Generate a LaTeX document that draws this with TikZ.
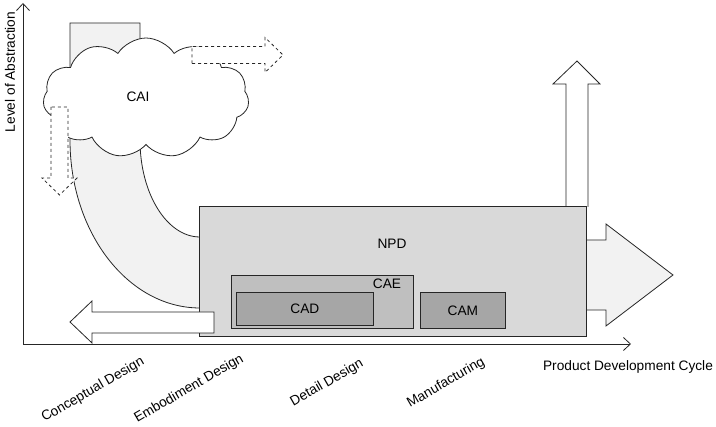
\documentclass[tikz,border=0pt]{standalone}
\usepackage{fontspec}
\setmainfont{Liberation Sans}
\usetikzlibrary{shapes.symbols, arrows.meta}

\definecolor{bandgray}{HTML}{F2F2F2}
\definecolor{npdgray}{HTML}{D9D9D9}
\definecolor{caegray}{HTML}{BFBFBF}
\definecolor{toolgray}{HTML}{A6A6A6}
\definecolor{linegray}{HTML}{262626}

\begin{document}
\begin{tikzpicture}[x=1pt, y=1pt, >={Straight Barb[length=7pt,width=13pt]},
    font=\fontsize{13.7}{16}\selectfont, line width=0.8pt, draw=linegray,
    box/.style={draw=linegray, rectangle, inner sep=0pt, anchor=south west},
    blockarrow/.style={draw=linegray, line join=miter},
    dasharrow/.style={draw=linegray, dashed, fill=white},
    stage/.style={rotate=30}]
    \useasboundingbox (0,0) rectangle (716,427);

    % axes
    \coordinate (o) at (23,83);
    \coordinate (xend) at (631,83);
    \coordinate (yend) at (23,424);
    \draw[->, linegray] (o) -- (xend);
    \draw[->, linegray] (o) -- (yend);
    \node[rotate=90] (abstr) at (10,355) {Level of Abstraction};
    \node (pdc) at (628,60) {Product Development Cycle};

    % stages
    \node[stage] (concept) at (93,37) {Conceptual Design};
    \node[stage] (embody) at (189,38) {Embodiment Design};
    \node[stage] (detail) at (327,44) {Detail Design};
    \node[stage] (manuf) at (446,44) {Manufacturing};

    % curved band from CAI down into NPD
    \draw[blockarrow, fill=bandgray] (70,404) -- (70,287)
        arc[start angle=180, end angle=270, x radius=130pt, y radius=168pt]
        -- (200,190)
        arc[start angle=270, end angle=180, x radius=60pt, y radius=97pt]
        -- (140,404) -- cycle;

    % CAI
    \node[cloud, draw=linegray, fill=white, cloud puffs=11, cloud puff arc=115,
        aspect=1.7, minimum width=206, minimum height=120, inner sep=0pt] (cai) at (146,329) {};
    \node (cailbl) at (138,330) {CAI};
    \draw[dasharrow] (192,363.5) -- (265,363.5) -- (265,354.5) -- (283,372)
        -- (265,389.5) -- (265,380.5) -- (192,380.5) -- cycle;
    \draw[dasharrow] (51,320) -- (51,249) -- (42,249) -- (59.5,232)
        -- (77,249) -- (68,249) -- (68,320) -- cycle;

    % arrows out of NPD
    \draw[blockarrow, fill=white] (566,220) -- (566,343) -- (553,343) -- (577,366)
        -- (600,343) -- (588,343) -- (588,220);
    \draw[blockarrow, fill=bandgray] (586,187) -- (606,187) -- (606,203) -- (673,152)
        -- (606,101) -- (606,117) -- (586,117);

    % NPD and tools
    \node[box, fill=npdgray, minimum width=387, minimum height=130] (npd) at (199,90) {};
    \node (npdlbl) at (392,183) {NPD};
    \node[box, fill=caegray, minimum width=182, minimum height=53] (cae) at (231,98) {};
    \node (caelbl) at (387,143) {CAE};
    \node[box, fill=toolgray, minimum width=137, minimum height=33] (cad) at (236,101) {};
    \node (cadlbl) at (cad.center) {CAD};
    \node[box, fill=toolgray, minimum width=85, minimum height=36] (cam) at (420,98) {};
    \node (camlbl) at (cam.center) {CAM};

    % feedback arrow
    \draw[blockarrow, fill=white] (214,115) -- (92,115) -- (92,126) -- (70,105)
        -- (92,84) -- (92,94) -- (214,94) -- cycle;
\end{tikzpicture}
\end{document}
